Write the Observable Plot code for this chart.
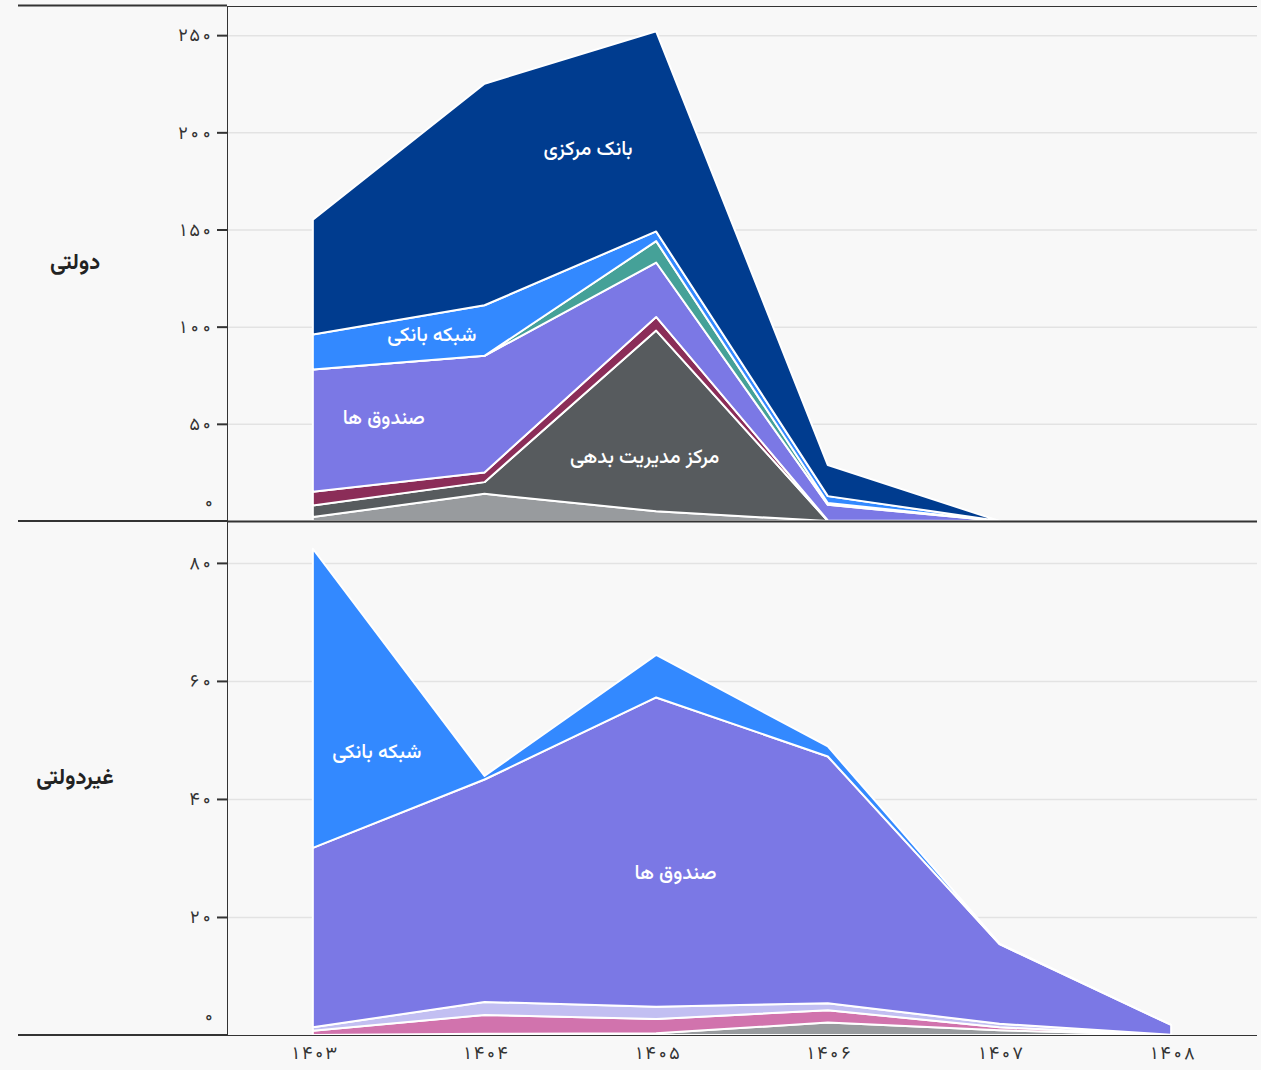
<!DOCTYPE html>
<html>
<head>
<meta charset="utf-8">
<script src="https://cdn.jsdelivr.net/npm/d3@7"></script>
<script src="https://cdn.jsdelivr.net/npm/@observablehq/plot@0.6"></script>
<style>
html, body { margin: 0; padding: 0; background: #f8f8f8; }
#chart { width: 1261px; background: #f8f8f8; }
#chart svg { display: block; }
</style>
</head>
<body>
<div id="chart"></div>
<script>
// ---------- DATA ----------
const years = [1403, 1404, 1405, 1406, 1407, 1408];
const govYears = [1403, 1404, 1405, 1406, 1407];

// دولتی (government) — stacked bottom to top
const govSeries = ["سایر", "مرکز مدیریت بدهی", "سایر ۲", "صندوق ها", "سایر ۳", "شبکه بانکی", "بانک مرکزی"];
const govOther        = [2, 14, 5, 0, 0];
const govDebtCenter   = [6, 6, 93, 0, 0];
const govOther2       = [7, 5, 7, 0.3, 0];
const govFunds        = [63, 60, 28, 8, 0];
const govOther3       = [0, 0, 11, 1, 0];
const govBanks        = [18, 26, 5, 3.5, 0];
const govCentralBank  = [59, 114, 103, 16, 0];

// غیردولتی (non-government) — stacked bottom to top
const ngSeries = ["سایر", "سایر ۲", "سایر ۳", "صندوق ها", "شبکه بانکی"];
const ngOther    = [0, 0.2, 0.3, 2.1, 0.8, 0];
const ngOther2   = [0.7, 3.2, 2.4, 2.1, 0.5, 0];
const ngOther3   = [0.6, 2.2, 2.1, 1.2, 0.6, 0.05];
const ngFunds    = [30.4, 37.7, 52.4, 41.8, 13.5, 1.65];
const ngBanks    = [50.7, 0.6, 7.2, 1.7, 0.1, 0];

// tick values
const govTicks = [50, 100, 150, 200, 250];
const ngTicks = [20, 40, 60, 80];
const zeroTick = [0];

// in-area annotation labels (data units)
const govLabelNames = ["بانک مرکزی", "شبکه بانکی", "صندوق ها", "مرکز مدیریت بدهی"];
const govLabelX = [1404.6, 1403.69, 1403.41, 1404.93];
const govLabelY = [192, 96, 53.5, 33.4];
const ngLabelNames = ["شبکه بانکی", "صندوق ها"];
const ngLabelX = [1403.37, 1405.11];
const ngLabelY = [48.1, 27.6];

const panelNames = ["دولتی", "غیردولتی"];

// ---------- STYLES ----------
const govColors = ["#989b9e", "#575b5e", "#8b2d58", "#7b78e5", "#45a198", "#3389ff", "#003c8f"];
const ngColors = ["#989b9e", "#d173ad", "#c2bff2", "#7b78e5", "#3389ff"];
const FONT = "Vazirmatn, 'Noto Sans Arabic', 'DejaVu Sans', sans-serif";
const INK = "#333";

// ---------- BUILD TABLES ----------
const govValues = [govOther, govDebtCenter, govOther2, govFunds, govOther3, govBanks, govCentralBank];
const govData = [];
govSeries.forEach((s, i) => govYears.forEach((y, j) => govData.push({series: s, year: y, value: govValues[i][j]})));
const ngValues = [ngOther, ngOther2, ngOther3, ngFunds, ngBanks];
const ngData = [];
ngSeries.forEach((s, i) => years.forEach((y, j) => ngData.push({series: s, year: y, value: ngValues[i][j]})));
const govLabels = govLabelNames.map((n, i) => ({name: n, x: govLabelX[i], y: govLabelY[i]}));
const ngLabels = ngLabelNames.map((n, i) => ({name: n, x: ngLabelX[i], y: ngLabelY[i]}));

const faDigits = "۰۱۲۳۴۵۶۷۸۹";
const fa = d => String(d).replace(/[0-9]/g, c => faDigits[+c]);

const W = 1261;
const xDomain = [1402.5, 1408.5];
const govMax = 265;
const ngMax = 87.1;

function panel({data, keys, colors, yMax, ticks, labels, height, marginTop, marginBottom, bottomAxis, topW, botW}) {
  return Plot.plot({
    width: W, height,
    marginLeft: 227, marginRight: 4, marginTop, marginBottom,
    style: {background: "transparent", color: INK, fontSize: "18px", fontFamily: FONT},
    x: {domain: xDomain, axis: null},
    y: {domain: [0, yMax], axis: null},
    color: {domain: keys, range: colors},
    marks: [
      Plot.gridY({ticks, stroke: "#e3e3e3", strokeOpacity: 1, strokeWidth: 1.5}),
      Plot.areaY(data, {x: "year", y: "value", fill: "series", stroke: "white", strokeWidth: 2}),
      Plot.axisY({ticks, tickSize: 10, tickPadding: 5, tickFormat: fa, strokeWidth: 2, fontSize: 18}),
      Plot.text(zeroTick, {y: d => d, frameAnchor: "left", dx: -15, dy: -19, textAnchor: "end", text: fa, fill: INK, fontSize: 18}),
      Plot.text(labels, {x: "x", y: "y", text: "name", fill: "white", fontSize: 20, fontWeight: 500}),
      bottomAxis ? Plot.axisX({ticks: years, tickSize: 0, tickPadding: 11, tickFormat: fa, fontSize: 18}) : null,
      Plot.ruleY([yMax], {stroke: INK, strokeWidth: topW}),
      Plot.ruleX([xDomain[0]], {stroke: INK, strokeWidth: 1}),
      Plot.ruleY([0], {stroke: INK, strokeWidth: botW})
    ]
  });
}

const topSvg = panel({data: govData, keys: govSeries, colors: govColors, yMax: govMax, ticks: govTicks, labels: govLabels, height: 521, marginTop: 6, marginBottom: 0, bottomAxis: false, topW: 1, botW: 2});
const bottomSvg = panel({data: ngData, keys: ngSeries, colors: ngColors, yMax: ngMax, ticks: ngTicks, labels: ngLabels, height: 549, marginTop: 0, marginBottom: 35, bottomAxis: true, topW: 2, botW: 1});

const chartEl = document.getElementById("chart");
chartEl.appendChild(topSvg);
chartEl.appendChild(bottomSvg);

// row separators in the left label column + panel titles
function decorate(svg, lines, title, cy) {
  const s = d3.select(svg);
  lines.forEach(([y, w]) => s.append("line").attr("x1", 18).attr("x2", 227).attr("y1", y).attr("y2", y)
    .attr("stroke", INK).attr("stroke-width", w));
  s.append("text").attr("x", 75).attr("y", cy).attr("text-anchor", "middle").attr("dominant-baseline", "middle")
    .attr("font-family", FONT).attr("font-size", 22).attr("font-weight", "bold").attr("fill", "#222").text(title);
}
decorate(topSvg, [[5.5, 2], [521, 2]], panelNames[0], 263);
decorate(bottomSvg, [[0, 2], [514, 2]], panelNames[1], 257);
</script>
</body>
</html>
